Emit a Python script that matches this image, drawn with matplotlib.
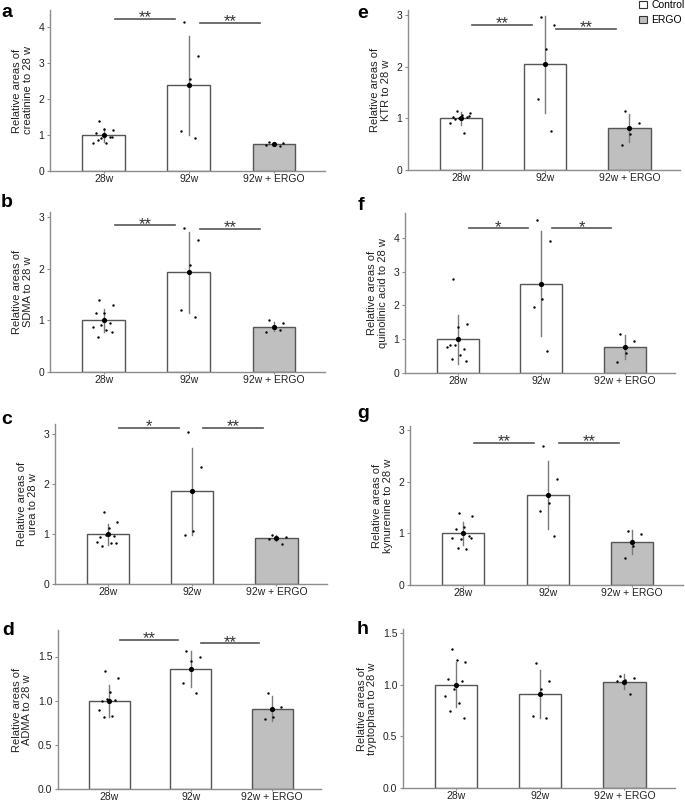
import numpy as np
import matplotlib
matplotlib.use("Agg")
import matplotlib.pyplot as plt
from matplotlib.patches import Patch

plt.rcParams['font.family'] = ['Liberation Sans', 'DejaVu Sans']

groups = ["28w", "92w", "92w + ERGO"]

# ---- data ----
creat_28 = [1.40, 1.13, 1.17, 1.05, 0.95, 0.93, 0.79, 0.78, 0.85, 0.95]
creat_92 = [4.14, 3.21, 2.57, 1.10, 0.93]
creat_er = [0.80, 0.78, 0.74, 0.72, 0.70]
creat_mean = [1.00, 2.38, 0.75]
creat_sd = [0.18, 1.38, 0.04]

sdma_28 = [1.40, 1.30, 1.15, 1.14, 0.95, 0.92, 0.88, 0.81, 0.68, 0.77]
sdma_92 = [2.79, 2.55, 2.08, 1.20, 1.07]
sdma_er = [1.01, 0.95, 0.85, 0.77, 0.82]
sdma_mean = [1.00, 1.93, 0.88]
sdma_sd = [0.22, 0.78, 0.08]

urea_28 = [1.45, 1.25, 1.13, 0.95, 0.97, 0.99, 0.85, 0.82, 0.77, 0.82]
urea_92 = [3.04, 2.35, 1.07, 0.99]
urea_er = [0.99, 0.95, 0.93, 0.90, 0.81]
urea_mean = [1.00, 1.86, 0.92]
urea_sd = [0.21, 0.87, 0.06]

adma_28 = [1.34, 1.26, 1.10, 1.00, 1.01, 1.02, 0.90, 0.83, 0.82]
adma_92 = [1.56, 1.50, 1.45, 1.20, 1.09]
adma_er = [1.09, 0.93, 0.82, 0.79]
adma_mean = [1.00, 1.36, 0.91]
adma_sd = [0.18, 0.20, 0.14]

ktr_28 = [1.14, 1.10, 1.06, 1.03, 1.02, 1.00, 0.92, 0.71, 0.98, 1.04]
ktr_92 = [2.97, 2.81, 2.35, 1.37, 0.76]
ktr_er = [1.14, 0.92, 0.69, 0.49]
ktr_mean = [1.00, 2.05, 0.81]
ktr_sd = [0.12, 0.94, 0.27]

quin_28 = [2.78, 1.44, 1.35, 0.82, 0.72, 0.84, 0.77, 0.53, 0.40, 0.36]
quin_92 = [4.53, 3.90, 2.19, 1.97, 0.66]
quin_er = [1.17, 0.95, 0.60, 0.33]
quin_mean = [1.00, 2.65, 0.76]
quin_sd = [0.72, 1.55, 0.36]

kyn_28 = [1.39, 1.34, 1.12, 1.08, 0.94, 0.90, 0.92, 0.69, 0.71, 0.91]
kyn_92 = [2.70, 2.05, 1.59, 1.44, 0.94]
kyn_er = [1.05, 0.99, 0.76, 0.52]
kyn_mean = [1.00, 1.74, 0.83]
kyn_sd = [0.23, 0.66, 0.23]

trp_28 = [1.35, 1.22, 1.24, 1.06, 1.04, 0.96, 0.89, 0.82, 0.75, 0.68]
trp_92 = [1.21, 1.04, 0.96, 0.70, 0.68]
trp_er = [1.08, 1.07, 1.05, 1.04, 0.91]
trp_mean = [1.00, 0.91, 1.03]
trp_sd = [0.22, 0.23, 0.07]

panels = [
    dict(tag="a", name="creatinine to 28 w", pts=[creat_28, creat_92, creat_er], mean=creat_mean, sd=creat_sd,
         top=4.48, ticks=[0, 1, 2, 3, 4], sig=[("**", 4.24), ("**", 4.13)], px=(50, 10, 325, 171),
         fmt="{:.0f}", lab=(1, 17)),
    dict(tag="b", name="SDMA to 28 w", pts=[sdma_28, sdma_92, sdma_er], mean=sdma_mean, sd=sdma_sd,
         top=3.1, ticks=[0, 1, 2, 3], sig=[("**", 2.84), ("**", 2.77)], px=(50, 212, 325, 372),
         fmt="{:.0f}", lab=(1, 207)),
    dict(tag="c", name="urea to 28 w", pts=[urea_28, urea_92, urea_er], mean=urea_mean, sd=urea_sd,
         top=3.2, ticks=[0, 1, 2, 3], sig=[("*", 3.13), ("**", 3.13)], px=(55, 424, 327, 584),
         fmt="{:.0f}", lab=(1, 424)),
    dict(tag="d", name="ADMA to 28 w", pts=[adma_28, adma_92, adma_er], mean=adma_mean, sd=adma_sd,
         top=1.8, ticks=[0, 0.5, 1.0, 1.5], sig=[("**", 1.69), ("**", 1.65)], px=(58, 630, 321, 789),
         fmt="{:.1f}", lab=(2, 635)),
    dict(tag="e", name="KTR to 28 w", pts=[ktr_28, ktr_92, ktr_er], mean=ktr_mean, sd=ktr_sd,
         top=3.1, ticks=[0, 1, 2, 3], sig=[("**", 2.81), ("**", 2.74)], px=(408, 10, 680, 170),
         fmt="{:.0f}", lab=(357, 18)),
    dict(tag="f", name="quinolinic acid to 28 w", pts=[quin_28, quin_92, quin_er], mean=quin_mean, sd=quin_sd,
         top=4.74, ticks=[0, 1, 2, 3, 4], sig=[("*", 4.29), ("*", 4.29)], px=(405, 213, 675, 373),
         fmt="{:.0f}", lab=(358, 210)),
    dict(tag="g", name="kynurenine to 28 w", pts=[kyn_28, kyn_92, kyn_er], mean=kyn_mean, sd=kyn_sd,
         top=3.08, ticks=[0, 1, 2, 3], sig=[("**", 2.76), ("**", 2.76)], px=(410, 426, 683, 585),
         fmt="{:.0f}", lab=(357, 418)),
    dict(tag="h", name="tryptophan to 28 w", pts=[trp_28, trp_92, trp_er], mean=trp_mean, sd=trp_sd,
         top=1.54, ticks=[0, 0.5, 1.0, 1.5], sig=[], px=(403, 629, 675, 788),
         fmt="{:.1f}", lab=(357, 634)),
]

W, H = 685, 802
fig = plt.figure(figsize=(W / 100, H / 100), dpi=100)

bar_fill = ["white", "white", "#bfbfbf"]
edge = "#555555"
axis_col = "#8c8c8c"

for p in panels:
    l, t, r, b = p["px"]
    ax = fig.add_axes([l / W, 1 - b / H, (r - l) / W, (b - t) / H])
    x = np.arange(3)
    ax.bar(x, p["mean"], width=0.5, color=bar_fill, edgecolor=edge, linewidth=1.0, zorder=1)
    for i in range(3):
        ax.plot([i, i], [p["mean"][i] - p["sd"][i], p["mean"][i] + p["sd"][i]],
                color="#7a7a7a", lw=1.0, zorder=2)
        vals = p["pts"][i]
        n = len(vals)
        offs = np.array([((k * 0.618 + 0.3) % 1.0 - 0.5) * 0.26 for k in range(n)])
        ax.scatter(i + offs, vals, s=3, color="black", zorder=3, linewidths=0)
        ax.scatter([i], [p["mean"][i]], s=14, color="black", zorder=4, linewidths=0)
    for j, (lab, yv) in enumerate(p["sig"]):
        x0, x1 = j + 0.13, j + 0.84
        ax.plot([x0, x1], [yv, yv], color="#555555", lw=1.2, clip_on=False)
        ax.annotate(lab, xy=((x0 + x1) / 2, yv), xytext=(0, -2.5), textcoords="offset points",
                    ha="center", va="baseline", fontsize=12, color="#333333", annotation_clip=False)
    ax.set_xlim(-0.63, 2.6)
    ax.set_ylim(0, p["top"])
    ax.set_yticks(p["ticks"])
    ax.set_yticklabels([p["fmt"].format(v) for v in p["ticks"]])
    ax.set_xticks(x)
    ax.set_xticklabels(groups)
    for s in ["top", "right"]:
        ax.spines[s].set_visible(False)
    for s in ["left", "bottom"]:
        ax.spines[s].set_color(axis_col)
        ax.spines[s].set_linewidth(1.0)
    ax.tick_params(axis="y", labelsize=7.5, colors=axis_col, labelcolor="#222222", length=2.5, width=0.8, pad=1.5)
    ax.tick_params(axis="x", labelsize=7.5, colors=axis_col, labelcolor="#222222", length=1.5, width=0.8, pad=0.5)
    ax.set_ylabel("Relative areas of\n" + p["name"], fontsize=8, color="#222222", labelpad=4, linespacing=1.1)
    lx, ly = p["lab"]
    fig.text(lx / W, 1 - ly / H, p["tag"], fontsize=14, fontweight="bold", ha="left", va="baseline")

handles = [Patch(facecolor="white", edgecolor="#333333", linewidth=0.8, label="Control"),
           Patch(facecolor="#bfbfbf", edgecolor="#333333", linewidth=0.8, label="ERGO")]
fig.legend(handles=handles, loc="upper left", bbox_to_anchor=(639 / W, 1.0), frameon=False, fontsize=7.5,
           handlelength=0.75, handleheight=0.75, handletextpad=0.45, labelspacing=0.5,
           borderaxespad=0.0, borderpad=0.0)

fig.savefig("out.png", dpi=100)
